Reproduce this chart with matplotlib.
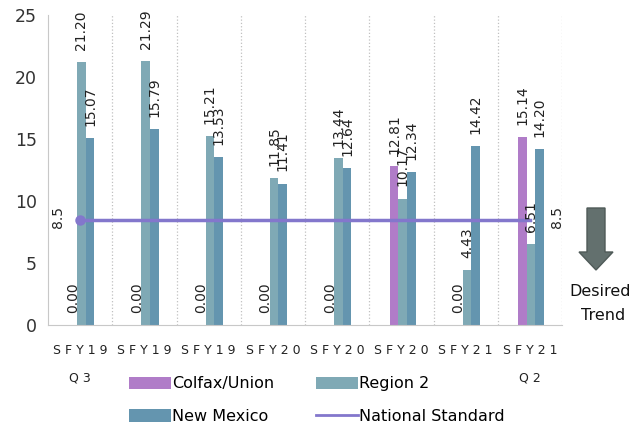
import numpy as np
import matplotlib.pyplot as plt
from matplotlib.patches import FancyArrow
from matplotlib.lines import Line2D

# chart data
quarters = ["S F Y 1 9\nQ 3", "S F Y 1 9", "S F Y 1 9", "S F Y 2 0",
            "S F Y 2 0", "S F Y 2 0", "S F Y 2 1", "S F Y 2 1\nQ 2"]
colfax = [0.00, 0.00, 0.00, 0.00, 0.00, 12.81, 0.00, 15.14]
region2 = [21.20, 21.29, 15.21, 11.85, 13.44, 10.17, 4.43, 6.51]
new_mexico = [15.07, 15.79, 13.53, 11.41, 12.64, 12.34, 14.42, 14.20]
national = [8.5] * 8

c_colfax = "#B07CC8"
c_region = "#7FA9B5"
c_nm = "#6495AF"
c_nat = "#8377CC"

fig = plt.figure(figsize=(6.31, 4.28), dpi=100)
ax = fig.add_axes([48 / 631, 1 - 325 / 428, 514 / 631, 310 / 428])

x = np.arange(len(quarters))
w = 0.135
off = 0.02
b1 = ax.bar(x - w + off, colfax, w, color=c_colfax)
b2 = ax.bar(x + off, region2, w, color=c_region)
b3 = ax.bar(x + w + off, new_mexico, w, color=c_nm)
ax.plot(x, national, color=c_nat, lw=2.5, marker="o", markersize=6.5,
        markevery=[0])

# value labels, rotated like the original
for bars, vals in [(b1, colfax), (b2, region2), (b3, new_mexico)]:
    for b, v in zip(bars, vals):
        ax.text(b.get_x() + b.get_width() / 2, v + 1.0, f"{v:.2f}",
                rotation=90, ha="center", va="bottom", fontsize=10,
                color="#222222")
ax.text(x[0] - 0.35, national[0] + 0.2, "8.5", rotation=90, ha="center",
        va="center", fontsize=10, color="#222222")
ax.text(x[-1] + 0.42, national[-1] + 0.2, "8.5", rotation=90, ha="center",
        va="center", fontsize=10, color="#222222")

ax.set_xlim(-0.5, 7.5)
ax.set_ylim(0, 25)
ax.set_yticks(range(0, 26, 5))
ax.set_xticks(x)
ax.set_xticklabels(quarters, fontsize=9, color="#222222", linespacing=2.4,
                   va="top")
ax.set_xticks(np.arange(0.5, 8, 1), minor=True)
ax.tick_params(axis="both", length=0, which="both")
ax.tick_params(axis="y", labelsize=12.5, labelcolor="#333333", pad=8)
ax.tick_params(axis="x", pad=14)
ax.grid(True, axis="x", which="minor", linestyle=":", color="#C0C0C0", lw=0.9)
for s in ["top", "right"]:
    ax.spines[s].set_visible(False)
for s in ["left", "bottom"]:
    ax.spines[s].set_color("#C8C8C8")

nat_handle = Line2D([], [], color=c_nat, lw=2)
fig.legend([b1, b3, b2, nat_handle],
           ["Colfax/Union", "New Mexico", "Region 2", "National Standard"],
           ncol=2, loc="upper left", bbox_to_anchor=(115 / 631, 1 - 362 / 428),
           frameon=False, fontsize=11.5, handlelength=2.6, handleheight=0.8,
           columnspacing=2.6, labelspacing=1.1, handletextpad=0.1)

# desired trend arrow
arrow = FancyArrow(596 / 631, 1 - 208 / 428, 0, -62 / 428, width=18 / 631,
                   head_width=34 / 631, head_length=18 / 428,
                   length_includes_head=True, transform=fig.transFigure,
                   color="#63706E", ec="#4F5A58")
fig.patches.append(arrow)
fig.text(600 / 631, 1 - 291 / 428, "Desired", ha="center", va="center",
         fontsize=11.5, color="#111111")
fig.text(603 / 631, 1 - 315 / 428, "Trend", ha="center", va="center",
         fontsize=11.5, color="#111111")

fig.savefig("out.png", dpi=100)
